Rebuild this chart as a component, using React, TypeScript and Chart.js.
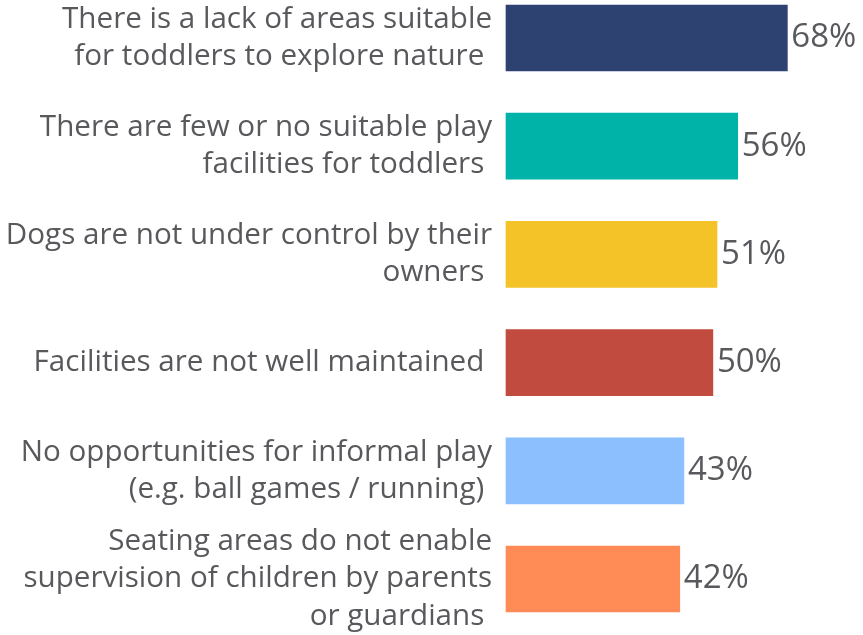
import React, { useEffect, useRef } from "react";
import { Chart, registerables } from "chart.js";

Chart.register(...registerables);

const categories: string[][] = [
  ["There is a lack of areas suitable", "for toddlers to explore nature "],
  ["There are few or no suitable play", "facilities for toddlers "],
  ["Dogs are not under control by their", "owners "],
  ["Facilities are not well maintained "],
  ["No opportunities for informal play", "(e.g. ball games / running) "],
  ["Seating areas do not enable", "supervision of children by parents", "or guardians "],
];
const values: number[] = [68, 56, 51, 50, 43, 42];
const barColors: string[] = ["#2D4270", "#00B3A8", "#F3C328", "#C14B3E", "#8BBFFD", "#FF8C57"];
const valueLabels: string[] = ["68%", "56%", "51%", "50%", "43%", "42%"];

const TEXT = "#58595C";
const FONT = "'Open Sans', sans-serif";

const valuePlugin = {
  id: "valueLabels",
  afterDatasetsDraw(chart: any) {
    const ctx = chart.ctx;
    const meta = chart.getDatasetMeta(0);
    ctx.save();
    ctx.font = `33px ${FONT}`;
    ctx.fillStyle = TEXT;
    ctx.textAlign = "left";
    ctx.textBaseline = "middle";
    meta.data.forEach((bar: any, i: number) => {
      ctx.fillText(valueLabels[i], bar.x + 4, bar.y);
    });
    ctx.restore();
  },
};

export default function App() {
  const ref = useRef<HTMLCanvasElement>(null);
  useEffect(() => {
    document.body.style.margin = "0";
    const chart = new Chart(ref.current!, {
      type: "bar",
      data: {
        labels: categories,
        datasets: [
          {
            data: values,
            backgroundColor: barColors,
            barThickness: 66,
            borderWidth: 0,
            clip: false,
          },
        ],
      },
      options: {
        indexAxis: "y",
        animation: false,
        responsive: false,
        maintainAspectRatio: false,
        layout: { padding: { top: 38, bottom: 56, left: 0, right: 2 } },
        plugins: { legend: { display: false }, tooltip: { enabled: false } },
        scales: {
          x: { display: false, min: 0, max: 85.8 },
          y: {
            offset: false,
            grid: { display: false, drawTicks: false },
            border: { display: false },
            afterFit: (s: any) => {
              s.width = 506;
              s.paddingTop = 0;
              s.paddingBottom = 0;
            },
            ticks: {
              autoSkip: false,
              padding: 14,
              color: TEXT,
              font: { family: FONT, size: 29.6, lineHeight: 1.26 },
            },
          },
        },
      },
      plugins: [valuePlugin],
    });
    return () => chart.destroy();
  }, []);
  return <canvas ref={ref} width={863} height={635} style={{ display: "block" }} />;
}
